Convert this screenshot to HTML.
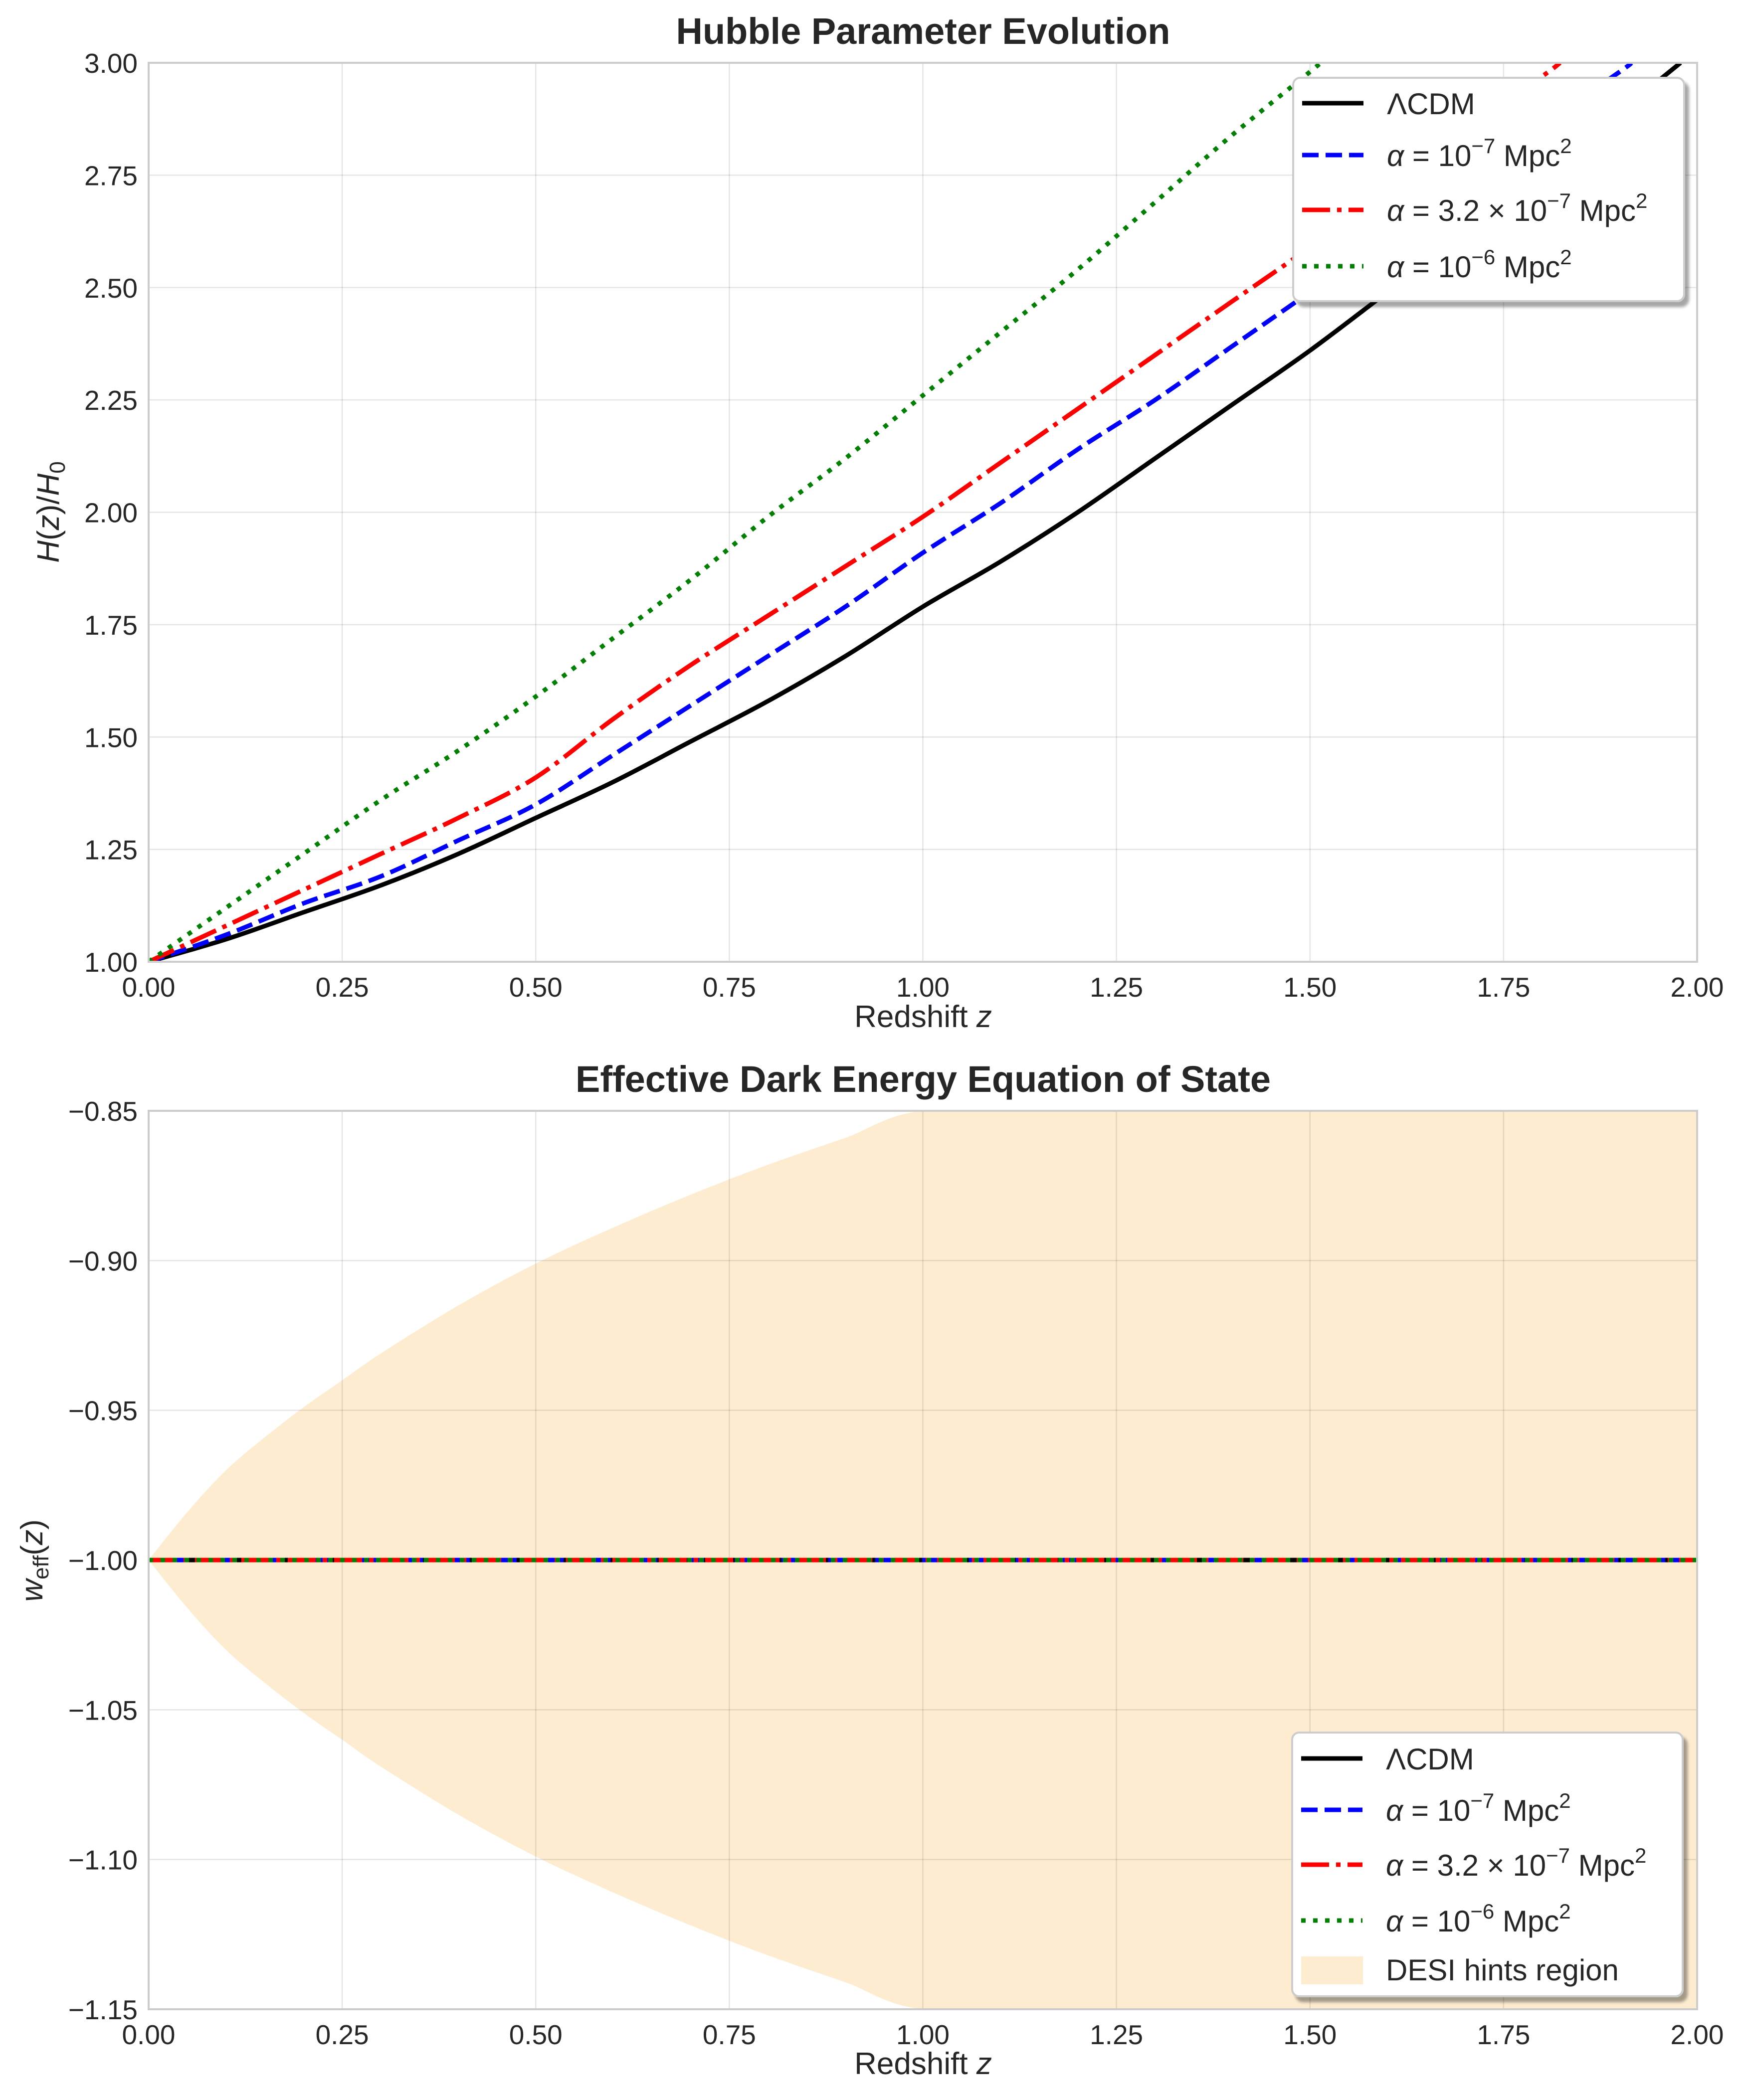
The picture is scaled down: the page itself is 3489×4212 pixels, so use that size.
<!DOCTYPE html>
<html><head><meta charset="utf-8"><style>
html,body{margin:0;padding:0;background:#fff;width:3489px;height:4212px;overflow:hidden;position:relative;}
svg{display:block;position:absolute;left:0;top:0;overflow:hidden;font-family:"Liberation Sans","DejaVu Sans",sans-serif;}
</style></head><body>
<svg id="fig" width="3489" height="4212" viewBox="0 0 3489 4212" xmlns="http://www.w3.org/2000/svg">
<defs>
<clipPath id="c1"><rect x="298" y="126" width="3105" height="1803"/></clipPath>
<clipPath id="c2"><rect x="298" y="2228" width="3105" height="1802"/></clipPath>
<filter id="sh" x="-5%" y="-5%" width="115%" height="115%"><feDropShadow dx="8" dy="10" stdDeviation="3" flood-color="#000" flood-opacity="0.35"/></filter>
</defs>
<g id="top"></g>
<g id="bot"></g>
</svg>
<script>
const zs=[0,0.1,0.2,0.3,0.4,0.5,0.6,0.7,0.8,0.9,1.0,1.1,1.2,1.3,1.4,1.5,1.6,1.7,1.8,1.9,2.0];
const hLCDM=[1.0,1.05,1.11,1.17,1.24,1.32,1.40,1.49,1.58,1.68,1.79,1.89,2.00,2.12,2.24,2.36,2.49,2.62,2.75,2.89,3.03];
const hA1=[1.0,1.06,1.13,1.19,1.27,1.35,1.46,1.57,1.68,1.79,1.91,2.02,2.14,2.25,2.37,2.49,2.61,2.73,2.86,2.98,3.11];
const hA32=[1.0,1.08,1.16,1.24,1.32,1.41,1.54,1.66,1.77,1.88,1.99,2.11,2.23,2.35,2.47,2.59,2.72,2.85,2.97,3.10,3.23];
const hA10=[1.0,1.12,1.24,1.36,1.47,1.59,1.72,1.85,1.99,2.12,2.26,2.40,2.54,2.69,2.84,2.98,3.13,3.28,3.43,3.58,3.73];
const wLCDM=[-1,-1,-1,-1,-1,-1,-1,-1,-1,-1,-1,-1,-1,-1,-1,-1,-1,-1,-1,-1,-1];
const bandZ=[0,0.05,0.1,0.15,0.2,0.25,0.3,0.4,0.5,0.6,0.7,0.8,0.9,1.0,1.2,1.5,2.0];
const bandHalf=[0,0.016,0.030,0.041,0.051,0.060,0.069,0.085,0.099,0.111,0.122,0.132,0.141,0.15,0.167,0.19,0.227];
const xTicks=["0.00","0.25","0.50","0.75","1.00","1.25","1.50","1.75","2.00"];
const yTicksTop=["1.00","1.25","1.50","1.75","2.00","2.25","2.50","2.75","3.00"];
const yTicksBot=["−1.15","−1.10","−1.05","−1.00","−0.95","−0.90","−0.85"];
const yValsBot=[-1.15,-1.10,-1.05,-1.00,-0.95,-0.90,-0.85];

const NS="http://www.w3.org/2000/svg";
function mk(tag,attrs,parent,text){const e=document.createElementNS(NS,tag);for(const k in attrs)e.setAttribute(k,attrs[k]);if(text!==undefined)e.textContent=text;parent.appendChild(e);return e;}
const L=298,R=3403;
const xs=z=>L+(z/2)*(R-L);
const LW=9;
const styles=[
 {c:"#000",d:"",n:"lcdm"},
 {c:"#0000ff",d:"33 14",n:"alpha-1e-7"},
 {c:"#ff0000",d:"56 14 9 14",n:"alpha-3.2e-7"},
 {c:"#008000",d:"9 15",n:"alpha-1e-6"}];

function smoothPath(P){
 let d='M'+P[0][0].toFixed(1)+','+P[0][1].toFixed(1);
 for(let i=0;i<P.length-1;i++){
  const p0=P[i-1]||P[i],p1=P[i],p2=P[i+1],p3=P[i+2]||P[i+1];
  const c1=[p1[0]+(p2[0]-p0[0])/6,p1[1]+(p2[1]-p0[1])/6];
  const c2=[p2[0]-(p3[0]-p1[0])/6,p2[1]-(p3[1]-p1[1])/6];
  d+=' C'+c1[0].toFixed(1)+','+c1[1].toFixed(1)+' '+c2[0].toFixed(1)+','+c2[1].toFixed(1)+' '+p2[0].toFixed(1)+','+p2[1].toFixed(1);
 }
 return d;
}
function panel(g,top,bot,ymin,ymax){
 const ys=v=>bot-(v-ymin)/(ymax-ymin)*(bot-top);
 const bg=mk('rect',{x:L,y:top,width:R-L,height:bot-top,fill:'#fff'},g);
 
 
 return ys;
}
function axes(g,top,bot,ys,yt,yv){
 xTicks.forEach((t,i)=>{const x=xs(i*0.25);
  const gl=mk('line',{x1:x,x2:x,y1:top,y2:bot,stroke:'#000','stroke-opacity':0.1,'stroke-width':2.5},g);
  
  
  const tx=mk('text',{x:x,y:bot+70,'font-size':55,'text-anchor':'middle',fill:'#262626'},g,t);
  
  });
 yt.forEach((t,i)=>{const y=ys(yv[i]);
  const gl=mk('line',{x1:L,x2:R,y1:y,y2:y,stroke:'#000','stroke-opacity':0.1,'stroke-width':2.5},g);
  
  
  const tx=mk('text',{x:276,y:y+20,'font-size':55,'text-anchor':'end',fill:'#262626'},g,t);
  
  });
}
function frame(g,top,bot){const f=mk('rect',{x:L,y:top,width:R-L,height:bot-top,fill:'none',stroke:'#ccc','stroke-width':4},g);
 
 }
// truncate series at first crossing of ymax (interpolated) so geometry stays in frame
function series(g,arrX,arrY,ys,s,clip,ymax){
 const P=[];
 for(let i=0;i<arrX.length;i++){
  if(ymax!==undefined && arrY[i]>ymax){
   const f=(ymax-arrY[i-1])/(arrY[i]-arrY[i-1]);
   P.push([xs(arrX[i-1]+f*(arrX[i]-arrX[i-1])),ys(ymax)]);
   break;
  }
  P.push([xs(arrX[i]),ys(arrY[i])]);
 }
 const p=mk('path',{d:smoothPath(P),fill:'none',stroke:s.c,'stroke-width':LW,'stroke-dasharray':s.d,'clip-path':'url(#'+clip+')','stroke-linejoin':'round'},g);
 
 
}
function legend(g,x,y,w,h,rows,withBand){
 const lg=mk('g',{},g);
 
 
 mk('rect',{x:x,y:y,width:w,height:h,rx:14,fill:'#fff',stroke:'#ccc','stroke-width':4,filter:'url(#sh)'},lg);
 const labels=[['ΛCDM',null],['α = 10','−7'],['α = 3.2 × 10','−7'],['α = 10','−6']];
 rows.forEach((ry,i)=>{
  const s=styles[i];
  const ln=mk('line',{x1:x+18,x2:x+141,y1:ry,y2:ry,stroke:s.c,'stroke-width':LW,'stroke-dasharray':s.d},lg);
  
  
  const t=mk('text',{x:x+188,y:ry+22,'font-size':60,fill:'#262626'},lg);
  
  
  if(i===0){t.textContent='ΛCDM';}
  else{
   mk('tspan',{'font-style':'italic'},t,'α');
   mk('tspan',{},t,labels[i][0].slice(1));
   mk('tspan',{dy:-26,'font-size':42},t,labels[i][1]);
   mk('tspan',{dy:26},t,' Mpc');
   mk('tspan',{dy:-26,'font-size':42},t,'2');
  }
 });
 if(withBand){const by=rows[rows.length-1]+100;
  const r=mk('rect',{x:x+18,y:by-28,width:124,height:56,fill:'#feecd0'},lg);
  
  
  const t=mk('text',{x:x+188,y:by+20,'font-size':60,fill:'#262626'},lg,'DESI hints region');
  
  }
}
function txt(g,attrs,s,name){const t=mk('text',attrs,g,s);return t;}

// top panel
const gt=document.getElementById('top');
const T1=126,B1=1929;
const ys1=panel(gt,T1,B1,1,3);
axes(gt,T1,B1,ys1,yTicksTop,[1,1.25,1.5,1.75,2,2.25,2.5,2.75,3]);
[hLCDM,hA1,hA32,hA10].forEach((arr,i)=>series(gt,zs,arr,ys1,styles[i],'c1',3.0));
frame(gt,T1,B1);
txt(gt,{x:1851,y:88,'font-size':74,'font-weight':'bold','text-anchor':'middle',fill:'#262626'},'Hubble Parameter Evolution','chart-title-hubble');
const xl1=txt(gt,{x:1851,y:2060,'font-size':62,'text-anchor':'middle',fill:'#262626'},'Redshift ','x-axis-title-top');
mk('tspan',{'font-style':'italic'},xl1,'z');
const yl=txt(gt,{transform:'translate(118,1027) rotate(-90)','font-size':62,'text-anchor':'middle',fill:'#262626'},'','y-axis-title-top');
mk('tspan',{'font-style':'italic'},yl,'H');mk('tspan',{},yl,'(');mk('tspan',{'font-style':'italic'},yl,'z');mk('tspan',{},yl,')/');mk('tspan',{'font-style':'italic'},yl,'H');mk('tspan',{dy:12,'font-size':44},yl,'0');
legend(gt,2593,156,784,448,[207,311,421,534],false);

// bottom panel
const gb=document.getElementById('bot');
const T2=2228,B2=4030;
const ys2=panel(gb,T2,B2,-1.15,-0.85);
const ysc=v=>ys2(Math.max(-1.15,Math.min(-0.85,v)));
const up=bandZ.map((z,i)=>[xs(z),ysc(-1+bandHalf[i])]);
const lo=bandZ.map((z,i)=>[xs(z),ysc(-1-bandHalf[i])]).reverse();
const bd=smoothPath(up)+' L'+lo[0][0].toFixed(1)+','+lo[0][1].toFixed(1)+smoothPath(lo).replace(/^M[^C]*/,' ')+' Z';
const band=mk('path',{d:bd,fill:'#feecd0','clip-path':'url(#c2)'},gb);


axes(gb,T2,B2,ys2,yTicksBot,yValsBot);
[wLCDM,wLCDM,wLCDM,wLCDM].forEach((arr,i)=>series(gb,zs,arr,ys2,styles[i],'c2'));
frame(gb,T2,B2);
txt(gb,{x:1851,y:2190,'font-size':74,'font-weight':'bold','text-anchor':'middle',fill:'#262626'},'Effective Dark Energy Equation of State','chart-title-eos');
const xl2=txt(gb,{x:1851,y:4160,'font-size':62,'text-anchor':'middle',fill:'#262626'},'Redshift ','x-axis-title-bottom');
mk('tspan',{'font-style':'italic'},xl2,'z');
const yl2=txt(gb,{transform:'translate(85,3130) rotate(-90)','font-size':62,'text-anchor':'middle',fill:'#262626'},'','y-axis-title-bottom');
mk('tspan',{'font-style':'italic'},yl2,'w');mk('tspan',{dy:12,'font-size':44},yl2,'eff');mk('tspan',{dy:-12},yl2,'(');mk('tspan',{'font-style':'italic'},yl2,'z');mk('tspan',{},yl2,')');
legend(gb,2591,3475,783,529,[3527,3630,3740,3852],true);
</script>
</body></html>
